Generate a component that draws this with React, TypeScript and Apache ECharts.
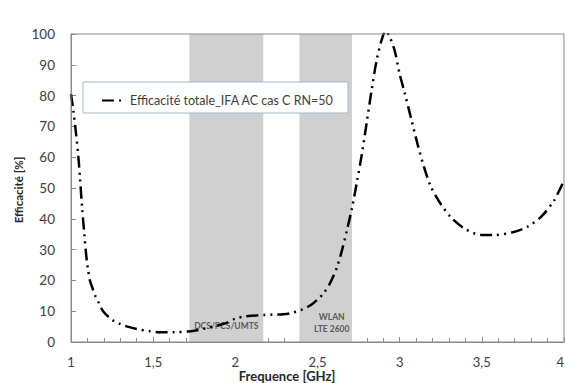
import React, { useEffect, useRef } from "react";
import * as echarts from "echarts";

const freq = [
  1.0, 1.014, 1.03, 1.045, 1.055, 1.067, 1.081, 1.091, 1.102, 1.116, 1.132, 1.146, 1.171, 1.195,
  1.25, 1.3, 1.35, 1.4, 1.48, 1.54, 1.63, 1.73, 1.8, 1.88, 1.95, 2.0, 2.05, 2.1, 2.18, 2.23, 2.29,
  2.34, 2.41, 2.46, 2.5, 2.54, 2.58, 2.62, 2.65, 2.68, 2.71, 2.74, 2.77, 2.8, 2.83, 2.86, 2.89,
  2.915, 2.94, 2.97, 3.0, 3.03, 3.07, 3.11, 3.15, 3.19, 3.25, 3.31, 3.39, 3.49, 3.57, 3.7, 3.78,
  3.86, 3.94, 4.0,
];
const efficacite = [
  80.5, 75.3, 68, 60, 53, 44, 35, 29, 24, 19.8, 17.3, 15.2, 12.5, 10,
  7.2, 5.8, 4.9, 4.2, 3.5, 3.2, 3.2, 3.5, 4.2, 5.2, 6.3, 7.6, 8.2, 8.5, 8.8, 8.9, 9.0,
  9.4, 10.6, 12, 13.8, 16, 19.5, 24.5, 30, 36.5, 43.5, 52, 61, 71.5, 82, 91.5, 98,
  101, 99, 94.5, 87, 81, 72.5, 64, 56.5, 50.4, 44.8, 40.6, 37, 34.8, 34.7, 35.8, 37.5,
  40.6, 46, 52.5,
];
const bandStarts = [1.72, 2.39];
const bandEnds = [2.17, 2.71];
const bandNames = ["DCS/PCS/UMTS", "WLAN\nLTE 2600"];
const seriesName = "Efficacité totale_IFA AC cas C RN=50";
const xTitle = "Frequence [GHz]";
const yTitle = "Efficacité [%]";

const FONT = "Lato, 'Open Sans', sans-serif";

export default function App() {
  const ref = useRef<HTMLDivElement>(null);
  useEffect(() => {
    if (!ref.current) return;
    const chart = echarts.init(ref.current, null, { renderer: "svg" });
    const L = 71, T = 34, R = 564, B = 342;
    const data = freq.map((f, i) => [f, efficacite[i]]);
    chart.setOption({
      animation: false,
      backgroundColor: "#fff",
      textStyle: { fontFamily: FONT },
      grid: {
        left: L,
        top: T,
        right: 565 - R,
        bottom: 383 - B,
        containLabel: false,
        outerBoundsMode: "none",
      },
      legend: {
        left: 96,
        top: 89,
        itemWidth: 23,
        itemHeight: 10,
        itemGap: 5,
        itemStyle: { opacity: 0 },
        textStyle: { fontFamily: FONT, fontSize: 12.5, color: "#404040" },
        data: [seriesName],
      },
      xAxis: {
        type: "value",
        min: 1,
        max: 4,
        interval: 0.5,
        axisLine: { show: true, lineStyle: { color: "#8a8a8a", width: 1 } },
        axisTick: { show: true, inside: true, length: 5, lineStyle: { color: "#8a8a8a" } },
        minorTick: { show: true, splitNumber: 5, length: 4, lineStyle: { color: "#8a8a8a" } },
        splitLine: { show: false },
        axisLabel: {
          margin: 13,
          fontSize: 13,
          color: "#404040",
          fontFamily: FONT,
          hideOverlap: false,
          alignMaxLabel: "right",
          formatter: (v: number) => String(v).replace(".", ","),
        },
      },
      yAxis: {
        type: "value",
        min: 0,
        max: 100,
        interval: 10,
        axisLine: { show: true, lineStyle: { color: "#8a8a8a", width: 1 } },
        axisTick: { show: true, inside: true, length: 5, lineStyle: { color: "#8a8a8a" } },
        splitLine: { show: false },
        axisLabel: { margin: 16, fontSize: 13.5, color: "#404040", fontFamily: FONT },
      },
      graphic: [
        {
          type: "rect",
          z: 3,
          shape: { x: 83, y: 82, width: 265, height: 31 },
          style: { fill: "#fff", stroke: "#a9b6c6", lineWidth: 1 },
        },
        {
          type: "rect",
          z: 10,
          silent: true,
          shape: { x: L, y: T, width: R - L, height: B - T },
          style: { fill: "none", stroke: "#8a8a8a", lineWidth: 1 },
        },
        {
          type: "text",
          z: 10,
          x: 287,
          y: 376,
          style: {
            text: xTitle,
            fontFamily: FONT,
            fontSize: 13,
            fontWeight: "bold",
            fill: "#262626",
            textAlign: "center",
            textVerticalAlign: "middle",
          },
        },
        {
          type: "text",
          z: 10,
          x: 18,
          y: 190,
          rotation: Math.PI / 2,
          style: {
            text: yTitle,
            fontFamily: FONT,
            fontSize: 11.5,
            fontWeight: "bold",
            fill: "#262626",
            textAlign: "center",
            textVerticalAlign: "middle",
          },
        },
      ],
      series: [
        {
          name: seriesName,
          type: "line",
          data,
          smooth: 0.3,
          symbol: "none",
          showSymbol: false,
          clip: true,
          z: 5,
          lineStyle: { color: "#000", width: 2.5, type: [12, 5, 2, 5, 2, 5], cap: "butt" },
          itemStyle: { color: "#000" },
          markArea: {
            silent: true,
            z: 1,
            itemStyle: { color: "#d0d0d0" },
            label: {
              position: "insideBottom",
              fontFamily: FONT,
              fontSize: 8.5,
              fontWeight: "bold",
              color: "#595959",
              lineHeight: 12,
            },
            data: bandStarts.map((s, i) => [
              {
                xAxis: s,
                name: bandNames[i],
                label: i === 0 ? { distance: 10 } : { distance: 7, offset: [6, 0] },
              },
              { xAxis: bandEnds[i] },
            ]),
          },
        },
      ],
    });
    return () => chart.dispose();
  }, []);
  return (
    <div
      ref={ref}
      style={{ position: "fixed", left: 0, top: 0, width: 565, height: 383, background: "#fff" }}
    />
  );
}
